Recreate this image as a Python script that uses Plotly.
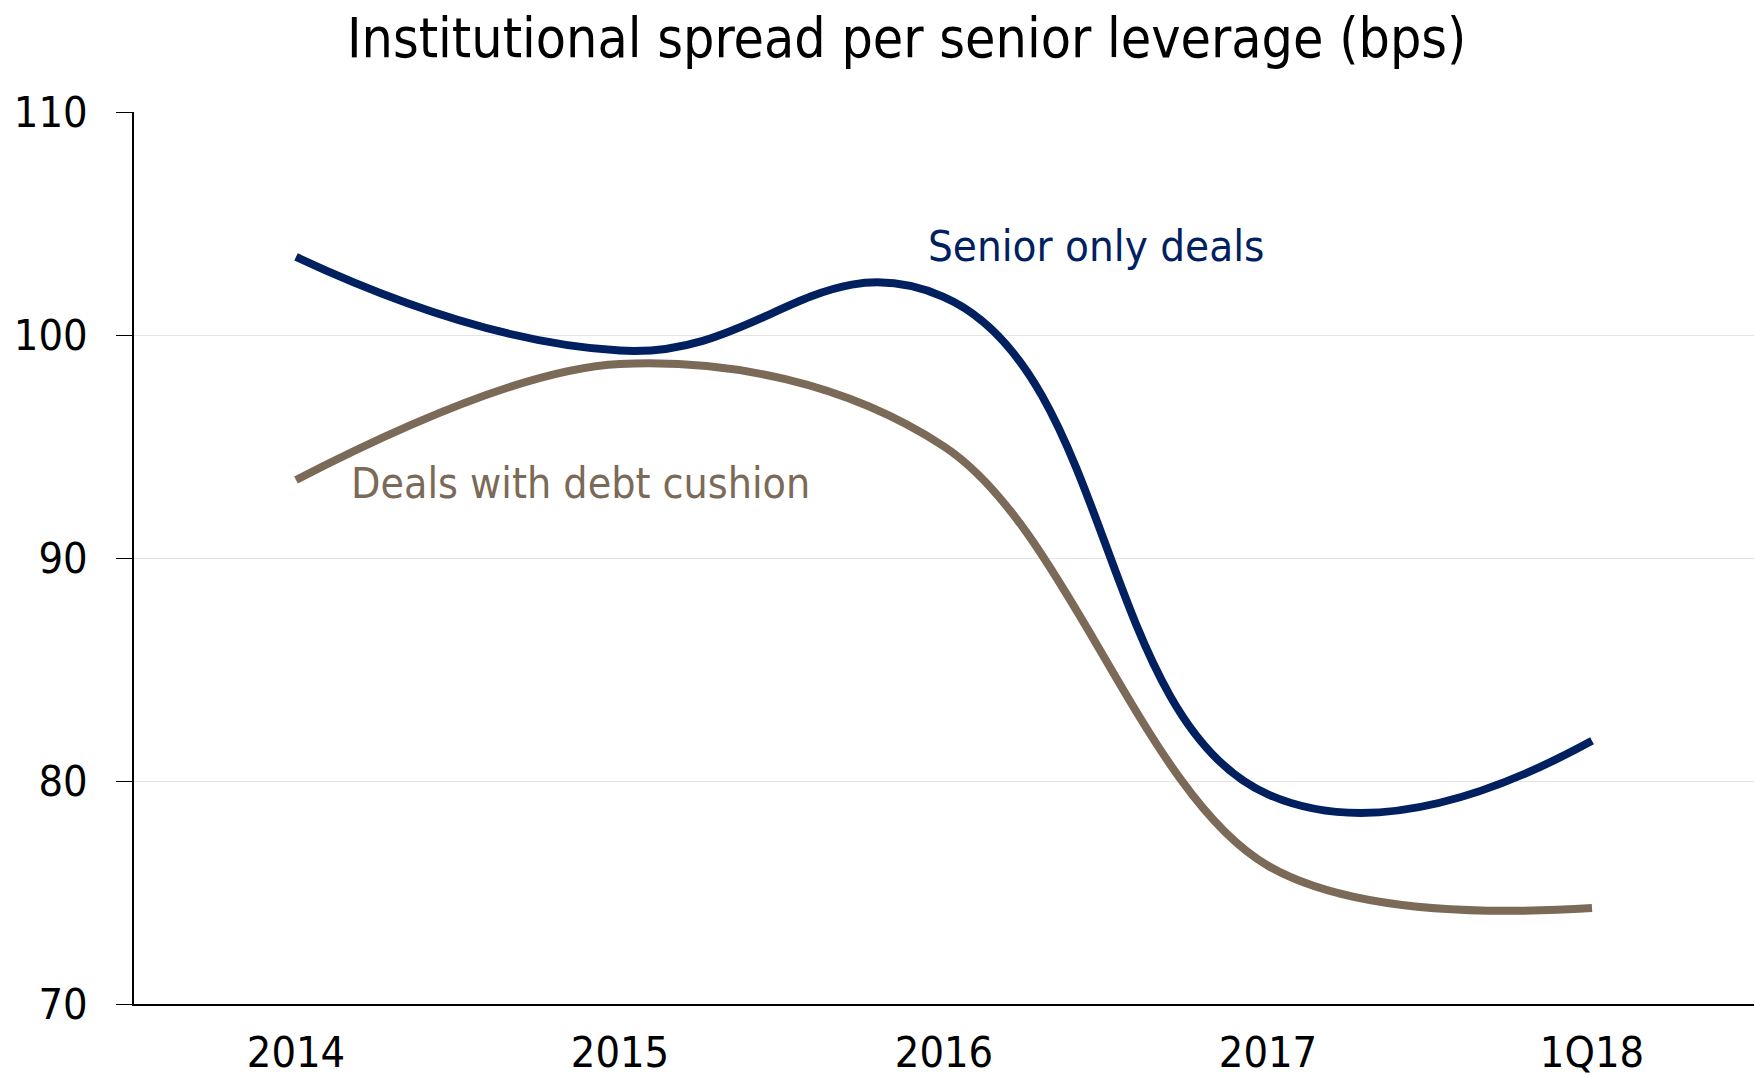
import plotly.graph_objects as go

categories = ["2014", "2015", "2016", "2017", "1Q18"]
senior_only = [103.5, 99.3, 101.7, 79.4, 81.8]
debt_cushion = [93.5, 98.7, 95.0, 76.2, 74.3]
y_ticks = [70, 80, 90, 100, 110]

NAVY = "#002060"
BROWN = "#7B6A58"
NARROW = "DejaVu Sans Condensed, Liberation Sans Narrow, sans-serif"

fig = go.Figure()
fig.add_trace(go.Scatter(x=categories, y=debt_cushion, mode="lines",
                         line=dict(color=BROWN, width=8, shape="spline", smoothing=1.0),
                         name="Deals with debt cushion", hoverinfo="skip"))
fig.add_trace(go.Scatter(x=categories, y=senior_only, mode="lines",
                         line=dict(color=NAVY, width=8, shape="spline", smoothing=1.3),
                         name="Senior only deals", hoverinfo="skip"))

fig.update_layout(
    width=1754, height=1078,
    margin=dict(l=134, r=0, t=112, b=74),
    paper_bgcolor="white", plot_bgcolor="white",
    showlegend=False,
    font=dict(family=NARROW, color="black"),
)
fig.update_xaxes(type="category", range=[-0.5, 4.5], showline=True, linecolor="black",
                 linewidth=2, showgrid=False, ticks="", tickfont=dict(size=43, family=NARROW),
                 ticklabelstandoff=9, automargin=False, fixedrange=True)
fig.update_yaxes(range=[70, 110], tickvals=y_ticks, showline=True, linecolor="black",
                 linewidth=1.5, showgrid=True, gridcolor="#E3E3E3", gridwidth=1,
                 ticks="outside", ticklen=16, tickcolor="black", tickwidth=1,
                 tickfont=dict(size=43, family=NARROW), ticklabelstandoff=20,
                 zeroline=False, automargin=False, fixedrange=True)

fig.add_annotation(text="Institutional spread per senior leverage (bps)",
                   xref="paper", yref="paper", x=0.477, y=1.083,
                   xanchor="center", yanchor="middle", showarrow=False,
                   font=dict(size=55, family=NARROW, color="black"))
fig.add_annotation(text="Senior only deals", xref="paper", yref="y",
                   x=0.489, y=104.0, xanchor="left", yanchor="middle", showarrow=False,
                   font=dict(size=43.5, family=NARROW, color=NAVY))
fig.add_annotation(text="Deals with debt cushion", xref="paper", yref="y",
                   x=0.1325, y=93.35, xanchor="left", yanchor="middle", showarrow=False,
                   font=dict(size=42.5, family=NARROW, color=BROWN))

fig.write_html("out.html")
